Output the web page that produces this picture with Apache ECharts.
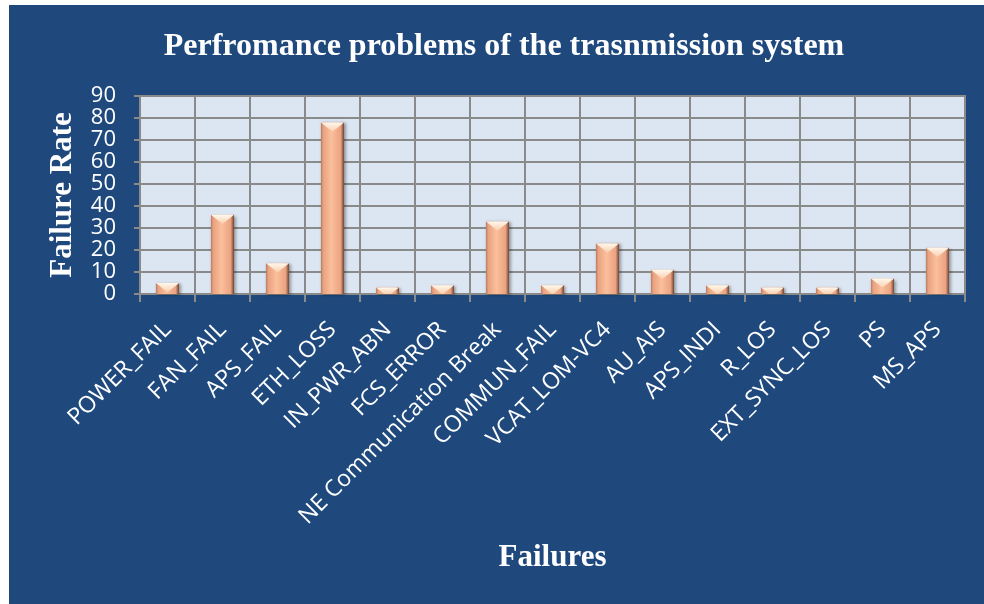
<!DOCTYPE html>
<html>
<head>
<meta charset="utf-8">
<script src="https://cdn.jsdelivr.net/npm/echarts@6/dist/echarts.min.js"></script>
<style>
html,body{margin:0;padding:0;background:#ffffff;width:984px;height:604px;overflow:hidden;}
#chart{position:absolute;left:9px;top:5px;width:975px;height:599px;}
</style>
</head>
<body>
<div id="chart"></div>
<script>
const categories = ["POWER_FAIL","FAN_FAIL","APS_FAIL","ETH_LOSS","IN_PWR_ABN","FCS_ERROR","NE Communication Break","COMMUN_FAIL","VCAT_LOM-VC4","AU_AIS","APS_INDI","R_LOS","EXT_SYNC_LOS","PS","MS_APS"];
const failureRate = [5,36,14,78,3,4,33,4,23,11,4,3,3,7,21];
const yTicks = {min:0, max:90, interval:10};

const chart = echarts.init(document.getElementById('chart'), null, {renderer:'canvas'});
const GRID = '#8a8a8a';

function renderBar(params, api){
  const idx = api.value(0), v = api.value(1);
  const top = api.coord([idx, v]);
  const base = api.coord([idx, 0]);
  const bw = api.size([1,0])[0]*0.42;
  const x0 = top[0]-bw/2, x1 = top[0]+bw/2, xc = top[0];
  const y0 = top[1], h = base[1]-top[1];
  const d = bw*0.4;
  let topPts;
  if (h >= d) topPts = [[x0,y0],[x1,y0],[xc,y0+d]];
  else { const hw = bw/2*(1-h/d); topPts = [[x0,y0],[x1,y0],[xc+hw,y0+h],[xc-hw,y0+h]]; }
  return {type:'group', children:[
    {type:'rect', shape:{x:x0,y:y0,width:bw,height:h},
     style:{fill:new echarts.graphic.LinearGradient(0,0,1,0,[
       {offset:0,color:'#b77b61'},{offset:0.1,color:'#e9a27f'},{offset:0.45,color:'#fbbf9c'},
       {offset:0.85,color:'#eba381'},{offset:1,color:'#6e4333'}]),
       shadowBlur:3, shadowOffsetX:1.5, shadowOffsetY:1, shadowColor:'rgba(0,0,0,0.35)'}},
    {type:'polygon', shape:{points:topPts},
     style:{fill:new echarts.graphic.LinearGradient(0,0,0,1,[
       {offset:0,color:'#fff8ec'},{offset:1,color:'#f9cfae'}])}}
  ]};
}

const option = {
  backgroundColor:'#1f497d',
  animation:false,
  title:{text:'Perfromance problems of the trasnmission system', left:490, top:21, textAlign:'center',
    textStyle:{color:'#ffffff', fontFamily:'Liberation Serif', fontWeight:'bold', fontSize:32}},
  grid:{left:131, top:91, width:825, height:198, show:true, backgroundColor:'#dce6f2', borderColor:GRID, borderWidth:2},
  xAxis:{type:'category', data:categories,
    name:'Failures', nameLocation:'middle', nameGap:248,
    nameTextStyle:{color:'#ffffff', fontFamily:'Liberation Serif', fontWeight:'bold', fontSize:31}},
  yAxis:{type:'value', min:yTicks.min, max:yTicks.max, interval:yTicks.interval,
    name:'Failure Rate', nameLocation:'middle', nameGap:62,
    nameTextStyle:{color:'#ffffff', fontFamily:'Liberation Serif', fontWeight:'bold', fontSize:31}},
  series:[{type:'custom', renderItem:renderBar, encode:{x:0,y:1},
    data:failureRate.map((v,i)=>[i,v]), clip:false}]
};
Object.assign(option.xAxis, {
  axisLine:{show:true, lineStyle:{color:GRID, width:2}},
  axisTick:{show:true, length:8, lineStyle:{color:GRID, width:2}},
  splitLine:{show:true, lineStyle:{color:GRID, width:2}},
  axisLabel:{color:'#ffffff', fontFamily:'Open Sans', fontSize:23, rotate:45, interval:0, margin:32}});
Object.assign(option.yAxis, {
  axisLine:{show:true, lineStyle:{color:GRID, width:2}},
  axisTick:{show:true, length:6, lineStyle:{color:GRID, width:2}},
  splitLine:{show:true, lineStyle:{color:GRID, width:2}},
  axisLabel:{color:'#ffffff', fontFamily:'Open Sans', fontSize:22, margin:24}});
chart.setOption(option);
</script>
</body>
</html>
